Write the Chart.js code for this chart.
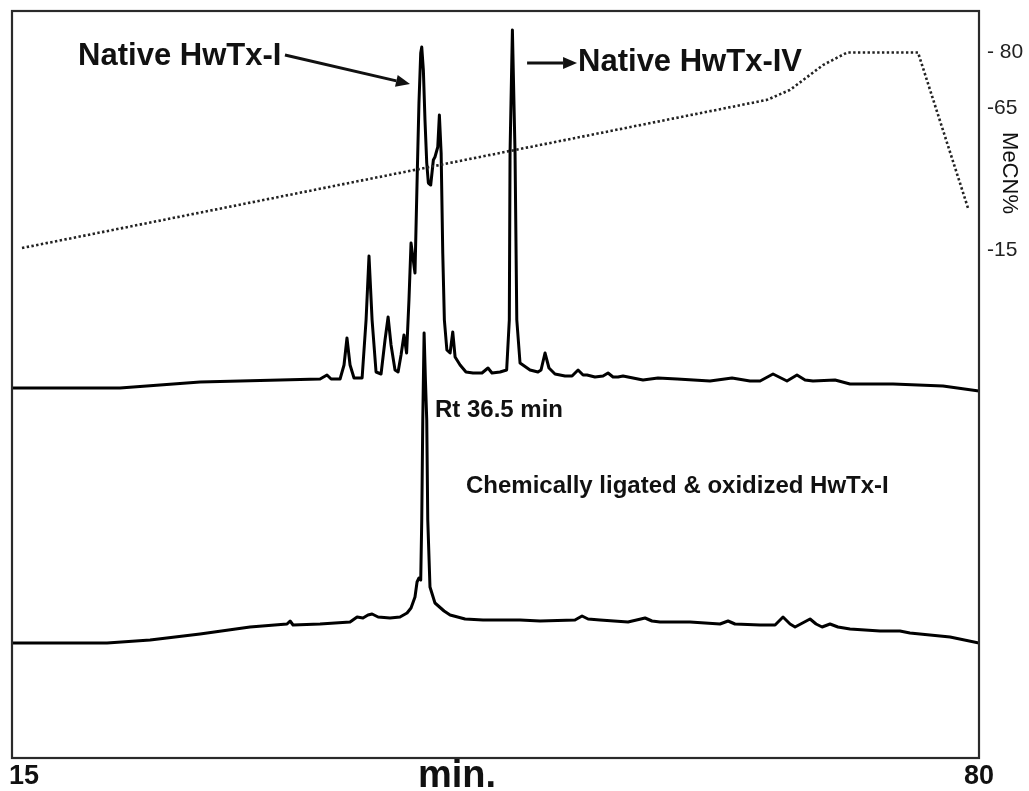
<!DOCTYPE html>
<html>
<head>
<meta charset="utf-8">
<script src="https://cdn.jsdelivr.net/npm/chart.js@4.4.0/dist/chart.umd.min.js"></script>
<style>
html,body{margin:0;padding:0;background:#fff;}
#wrap{width:1029px;height:791px;position:relative;}
</style>
</head>
<body>
<div id="wrap"><canvas id="c"></canvas></div>
<script>
// ---- data (time in min, absorbance in arbitrary units) ----
const nativeTime = [14.18,21.53,26.98,35.15,35.62,35.90,36.51,36.78,36.98,37.19,37.46,38.01,38.28,38.48,38.69,38.96,39.30,39.57,39.78,39.98,40.25,40.46,40.66,40.86,41.04,41.20,41.34,41.61,41.77,41.88,42.00,42.07,42.18,42.29,42.41,42.52,42.68,42.86,42.97,43.16,43.27,43.39,43.50,43.61,43.78,44.00,44.18,44.34,44.68,45.08,45.56,46.17,46.58,46.85,47.40,47.85,48.03,48.08,48.24,48.42,48.54,48.76,49.44,49.98,50.19,50.46,50.73,51.14,51.82,52.30,52.71,53.05,53.32,53.86,54.41,54.75,55.09,55.43,55.77,56.11,57.13,58.15,59.45,61.69,63.19,64.41,65.10,65.98,66.93,67.61,68.16,68.70,70.20,71.22,74.15,77.55,80.00];
const nativeAbs  = [74.0,74.0,75.2,75.8,76.6,75.8,75.8,78.6,84.0,78.6,76.0,76.0,87.6,100.4,87.6,77.2,76.8,83.6,88.2,82.6,77.6,77.2,80.6,84.6,81.0,91.6,103.0,97.0,117.6,131.0,141.0,142.2,137.6,127.6,119.0,115.0,114.6,119.6,120.2,122.2,128.6,121.0,101.0,87.6,81.6,81.0,85.2,80.2,78.6,77.2,77.0,77.0,78.0,77.0,77.2,77.6,87.6,121.0,145.6,121.0,87.6,79.0,77.6,77.2,77.6,81.0,78.0,76.8,76.4,76.4,77.6,76.6,76.6,76.2,76.4,77.0,76.2,76.2,76.4,76.2,75.6,76.0,75.8,75.4,76.0,75.4,75.4,76.8,75.4,76.6,75.6,75.4,75.6,74.8,74.8,74.4,73.4];

const ligatedTime = [14.18,20.65,23.58,26.98,30.38,32.90,33.11,33.31,35.15,37.19,37.67,38.07,38.41,38.69,39.10,39.91,40.59,41.07,41.34,41.61,41.75,41.88,42.00,42.07,42.14,42.23,42.32,42.41,42.48,42.63,42.97,43.59,44.00,45.02,46.24,48.76,50.12,52.50,52.98,53.39,54.20,56.11,57.27,57.74,58.29,60.33,62.37,62.92,63.39,65.10,66.12,66.66,67.14,67.48,68.50,68.91,69.32,69.86,70.40,71.22,73.26,74.62,75.30,75.98,78.03,80.00];
const ligatedAbs  = [23.0,23.0,23.6,24.8,26.2,26.8,27.4,26.6,26.8,27.2,28.2,28.0,28.6,28.8,28.2,28.0,28.2,29.0,30.0,32.2,35.2,36.0,35.6,47.6,67.6,85.0,75.6,67.6,47.6,34.2,31.0,29.4,28.6,27.8,27.6,27.6,27.4,27.6,28.4,27.8,27.6,27.2,28.0,27.4,27.2,27.2,26.8,27.4,26.8,26.6,26.6,28.2,26.8,26.2,27.8,26.8,26.2,26.8,26.2,25.8,25.4,25.4,25.0,24.8,24.2,23.0];

// MeCN gradient (min, %)
const gradientTime = [14.86,65.57,67.14,69.38,71.02,75.85,79.25];
const gradientMeCN = [15.7,67.2,69.9,76.6,80.0,80.0,29.8];

// tick labels
const xTickValues = [15, 80];
const mecnTickValues = [80, 65, 15];
const mecnTickLabels = ['- 80', '-65', '-15'];

// annotation texts
const labelTexts = ['Native HwTx-I', 'Native HwTx-IV', 'Rt 36.5 min', 'Chemically ligated & oxidized HwTx-I'];
const xTitle = 'min.';
const yRightTitle = 'MeCN%';

// ---- MeCN axis of the figure is not linear between its labelled ticks ----
function warp(v){ return v >= 65 ? v : 26.62 + (v - 15) * 0.7676; }
function unwarp(w){ return w >= 65 ? w : 15 + (w - 26.62) / 0.7676; }
class WarpScale extends Chart.LinearScale {
  getPixelForValue(value){ return super.getPixelForValue(warp(value)); }
  getValueForPixel(pixel){ return unwarp(super.getValueForPixel(pixel)); }
}
WarpScale.id = 'warp';
WarpScale.defaults = Chart.LinearScale.defaults;
Chart.register(WarpScale);

const pts = (xs, ys) => xs.map((x, i) => ({x, y: ys[i]}));

const annotations = {
  texts: [
    {i:0, t:18.68, v:138.6, font:'bold 31px "Liberation Sans", Arial, sans-serif'},
    {i:1, t:52.71, v:137.4, font:'bold 31px "Liberation Sans", Arial, sans-serif'},
    {i:2, t:42.97, v:68.2,  font:'bold 24px "Liberation Sans", Arial, sans-serif'},
    {i:3, t:45.08, v:53.0,  font:'bold 24px "Liberation Sans", Arial, sans-serif'}
  ],
  arrows: [
    {from:[32.76,140.6], to:[41.27,134.8]},
    {from:[49.24,139.0], to:[52.64,139.0]}
  ]
};

const decor = {
  id: 'decor',
  afterDraw(chart){
    const {ctx, chartArea: a, scales} = chart;
    const xs = scales.x, ys = scales.y;
    ctx.save();
    // frame
    ctx.strokeStyle = '#2a2a2a';
    ctx.lineWidth = 2.2;
    ctx.strokeRect(a.left, a.top, a.right - a.left, a.bottom - a.top);
    // texts
    ctx.fillStyle = '#111';
    ctx.textBaseline = 'alphabetic';
    ctx.textAlign = 'left';
    annotations.texts.forEach(o => {
      ctx.font = o.font;
      ctx.fillText(labelTexts[o.i], xs.getPixelForValue(o.t), ys.getPixelForValue(o.v));
    });
    // arrows
    ctx.strokeStyle = '#111';
    ctx.lineWidth = 3;
    annotations.arrows.forEach(ar => {
      const x1 = xs.getPixelForValue(ar.from[0]), y1 = ys.getPixelForValue(ar.from[1]);
      const x2 = xs.getPixelForValue(ar.to[0]), y2 = ys.getPixelForValue(ar.to[1]);
      const ang = Math.atan2(y2 - y1, x2 - x1);
      const hl = 14, hw = 6;
      const bx = x2 - hl * Math.cos(ang), by = y2 - hl * Math.sin(ang);
      ctx.beginPath(); ctx.moveTo(x1, y1); ctx.lineTo(bx, by); ctx.stroke();
      ctx.beginPath();
      ctx.moveTo(x2, y2);
      ctx.lineTo(bx + hw * Math.sin(ang), by - hw * Math.cos(ang));
      ctx.lineTo(bx - hw * Math.sin(ang), by + hw * Math.cos(ang));
      ctx.closePath(); ctx.fill();
    });
    // x title
    ctx.font = 'bold 38px "Liberation Sans", Arial, sans-serif';
    ctx.textAlign = 'center';
    ctx.fillText(xTitle, xs.getPixelForValue(44.47), chart.height - 4);
    // right title (rotated)
    ctx.font = '22px "Liberation Sans", Arial, sans-serif';
    ctx.translate(a.right + 30, a.top + 162);
    ctx.rotate(Math.PI / 2);
    ctx.textBaseline = 'middle';
    ctx.fillText(yRightTitle, 0, 0);
    ctx.restore();
  }
};

new Chart(document.getElementById('c'), {
  type: 'line',
  data: {
    datasets: [
      {label:'MeCN gradient', data: pts(gradientTime, gradientMeCN), yAxisID:'y2',
       borderColor:'#222', borderWidth:2.6, borderDash:[2.4,2.4], pointRadius:0, tension:0, fill:false},
      {label:'Native HwTx', data: pts(nativeTime, nativeAbs), yAxisID:'y',
       borderColor:'#000', borderWidth:3, pointRadius:0, tension:0, fill:false, borderJoinStyle:'round'},
      {label:'Chemically ligated & oxidized HwTx-I', data: pts(ligatedTime, ligatedAbs), yAxisID:'y',
       borderColor:'#000', borderWidth:3, pointRadius:0, tension:0, fill:false, borderJoinStyle:'round'}
    ]
  },
  options: {
    responsive: true,
    maintainAspectRatio: false,
    animation: false,
    layout: { padding: {left:12, top:11, right:0, bottom:0} },
    plugins: { legend:{display:false}, tooltip:{enabled:false}, title:{display:false} },
    scales: {
      x: {
        type:'linear', min:14.18, max:80,
        grid:{display:false}, border:{display:false},
        afterBuildTicks: s => { s.ticks = xTickValues.map(v => ({value:v})); },
        afterFit: s => { s.height = 33; s.paddingLeft = 0; s.paddingRight = 0; },
        ticks:{ autoSkip:false, maxRotation:0, padding:-3, color:'#111',
                font:{family:'"Liberation Sans", Arial, sans-serif', size:27, weight:'bold', lineHeight:1},
                callback: v => String(v) }
      },
      y: {
        type:'linear', display:false, min:0, max:149.4
      },
      y2: {
        type:'warp', position:'right', min:-110.68, max:91.22,
        grid:{display:false, drawTicks:false}, border:{display:false},
        afterBuildTicks: s => { s.ticks = mecnTickValues.map(v => ({value:v})); },
        afterFit: s => { s.width = 50; s.paddingTop = 0; s.paddingBottom = 0; },
        ticks:{ autoSkip:false, padding:8, color:'#222',
                font:{family:'"Liberation Sans", Arial, sans-serif', size:21},
                callback: v => mecnTickLabels[mecnTickValues.indexOf(v)] }
      }
    }
  },
  plugins:[decor]
});
</script>
</body>
</html>
